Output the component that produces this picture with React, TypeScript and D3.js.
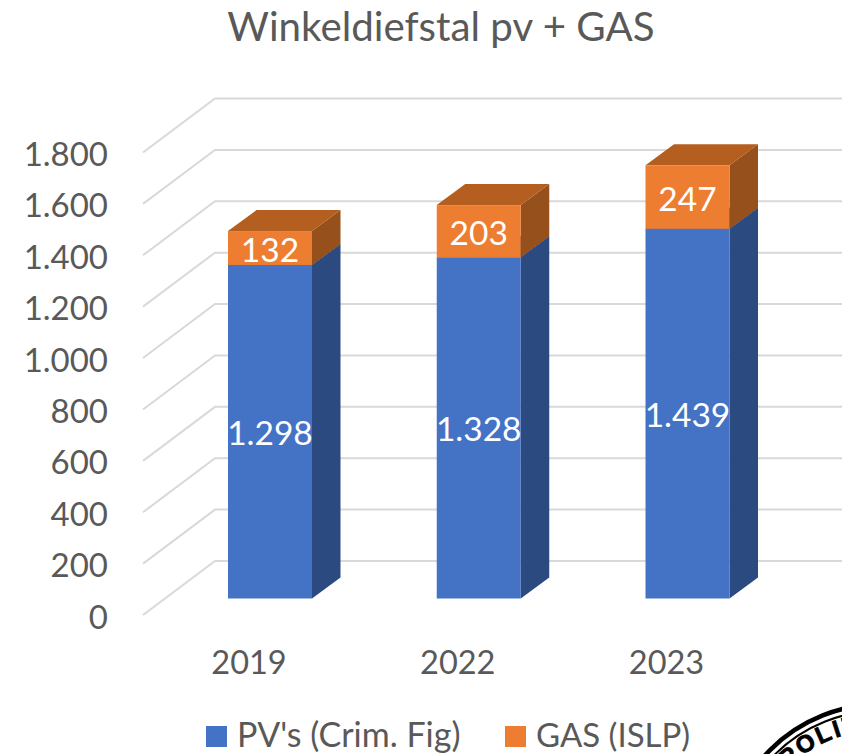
import React from "react";
import * as d3 from "d3";

const years = ["2019", "2022", "2023"];
const pvValues = [1298, 1328, 1439];
const gasValues = [132, 203, 247];
const yTicks = [0, 200, 400, 600, 800, 1000, 1200, 1400, 1600, 1800];
const seriesNames = ["PV's (Crim. Fig)", "GAS (ISLP)"];
const FONT = "Lato, Carlito, sans-serif";
const fmt = (v: number) => d3.format(",")(v).replace(/,/g, ".");

const DX = 28.5, DY = 21;
const WX = 72, WY = 54;

const y = d3.scaleLinear().domain([0, 1800]).range([615, 152.5]);
const x = d3.scaleBand<string>().domain(years).range([228, 729.5]).paddingInner(0.5976).paddingOuter(0);
const BAR_OFFSET = 598.5 - 615;

function Box({ x0, w, yb, yt, front, side, top }: any) {
  const x1 = x0 + w;
  return (
    <g>
      <polygon points={`${x1},${yb} ${x1 + DX},${yb - DY} ${x1 + DX},${yt - DY} ${x1},${yt}`} fill={side} />
      <polygon points={`${x0},${yt} ${x1},${yt} ${x1 + DX},${yt - DY} ${x0 + DX},${yt - DY}`} fill={top} />
      <rect x={x0} y={yt} width={w} height={yb - yt} fill={front} />
    </g>
  );
}

export default function App() {
  const w = x.bandwidth();
  return (
    <svg width={842} height={754} style={{ position: "absolute", left: 0, top: 0, background: "#fff" }} fontFamily={FONT}>
      <defs>
        <path id="badgeArc" d="M 750 860 A 130 130 0 0 1 1010 860" />
      </defs>
      <text x={441} y={41} textAnchor="middle" fontSize={40.3} fill="#595959">Winkeldiefstal pv + GAS</text>

      {yTicks.map((t) => (
        <g key={t}>
          <polyline
            points={`143,${y(t)} ${143 + WX},${y(t) - WY} 842,${y(t) - WY}`}
            fill="none" stroke="#d9d9d9" strokeWidth={2}
          />
          <text x={108} y={y(t) + 13.5} textAnchor="end" fontSize={33} fill="#595959">{fmt(t)}</text>
        </g>
      ))}

      {years.map((yr, i) => {
        const x0 = x(yr)!;
        const yb = y(0) + BAR_OFFSET;
        const yPv = y(pvValues[i]) + BAR_OFFSET;
        const yGas = y(pvValues[i] + gasValues[i]) + BAR_OFFSET;
        return (
          <g key={yr}>
            <Box x0={x0} w={w} yb={yb} yt={yPv} front="#4472c4" side="#2b4a80" top="#2b4a80" />
            <Box x0={x0} w={w} yb={yPv} yt={yGas} front="#ed7d31" side="#96501b" top="#b45e20" />
            <text x={x0 + w / 2} y={(yb + yPv) / 2 + 13.5} textAnchor="middle" fontSize={33.5} fill="#fff">{fmt(pvValues[i])}</text>
            <text x={x0 + w / 2} y={(yPv + yGas) / 2 + 13.5} textAnchor="middle" fontSize={33.5} fill="#fff">{fmt(gasValues[i])}</text>
            <text x={x0 + w / 2 - 21} y={674} textAnchor="middle" fontSize={32.5} fill="#595959">{yr}</text>
          </g>
        );
      })}

      <rect x={206} y={726} width={21} height={21} fill="#4472c4" />
      <text x={237} y={747} fontSize={34} fill="#595959">{seriesNames[0]}</text>
      <rect x={505} y={726} width={21} height={21} fill="#ed7d31" />
      <text x={536} y={747} fontSize={33} fill="#595959">{seriesNames[1]}</text>

      <circle cx={880} cy={860} r={155.5} fill="none" stroke="#000" strokeWidth={4.5} />
      <circle cx={880} cy={860} r={149} fill="none" stroke="#000" strokeWidth={2} />
      <text fontFamily="Liberation Sans, sans-serif" fontWeight={700} fontSize={24} fill="#000" stroke="#000" strokeWidth={0.8} letterSpacing={2.5}>
        <textPath href="#badgeArc" startOffset="25%">POLITIE</textPath>
      </text>
    </svg>
  );
}
